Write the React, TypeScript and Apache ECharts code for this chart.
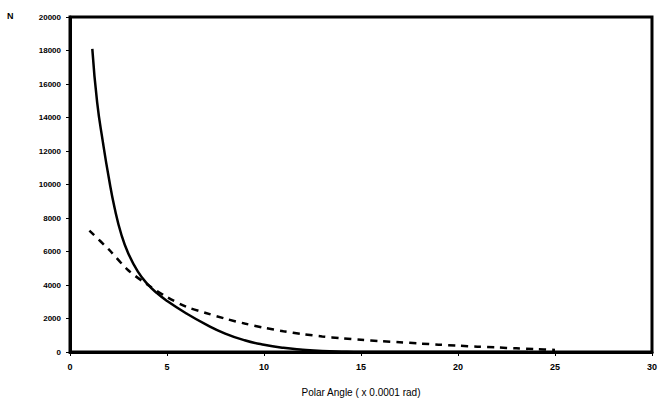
import React, { useEffect, useRef } from "react";
import * as echarts from "echarts";

const solidX = [1.15, 1.4, 1.7, 2.0, 2.3, 2.65, 3.0, 3.5, 4.0, 4.5, 5.0, 6.0, 7.0, 8.0, 9.0, 10.0, 11.0, 12.0, 13.0, 14.0, 15.0, 23.6];
const solidY = [18100, 14900, 12500, 10400, 8600, 7000, 5900, 4800, 4050, 3500, 3050, 2300, 1650, 1100, 700, 430, 250, 140, 60, 20, 0, 0];

const dashedX = [1, 2, 3, 4, 5, 6, 7, 8, 9, 10, 11, 12, 13, 14, 15, 16, 17, 18, 19, 20, 21, 22, 23, 24, 25];
const dashedY = [7250, 6120, 4880, 4020, 3280, 2700, 2330, 1990, 1700, 1450, 1240, 1070, 930, 820, 730, 650, 580, 510, 440, 380, 320, 270, 220, 170, 120];

const xTicks = [0, 5, 10, 15, 20, 25, 30];
const yTicks = [0, 2000, 4000, 6000, 8000, 10000, 12000, 14000, 16000, 18000, 20000];

const xTitle = "Polar Angle ( x 0.0001 rad)";
const yTitle = "N";

export default function App() {
  const ref = useRef<HTMLDivElement>(null);
  useEffect(() => {
    if (!ref.current) return;
    const chart = echarts.init(ref.current, null, { renderer: "svg" });
    const font = "'Liberation Sans', Arial, sans-serif";
    chart.setOption({
      animation: false,
      backgroundColor: "#fff",
      textStyle: { fontFamily: font },
      grid: {
        left: 70,
        right: 3,
        top: 17,
        bottom: 55,
        show: true,
        borderColor: "#000",
        borderWidth: 3,
        backgroundColor: "#fff",
      },
      graphic: [
        {
          type: "text",
          left: 7,
          top: 11,
          style: { text: yTitle, fontSize: 9, fontWeight: "bold", fill: "#000", fontFamily: font },
        },
      ],
      xAxis: {
        type: "value",
        min: xTicks[0],
        max: xTicks[xTicks.length - 1],
        interval: 5,
        name: xTitle,
        nameLocation: "middle",
        nameGap: 35,
        nameTextStyle: { fontSize: 10, color: "#000", fontFamily: font },
        axisLine: { show: true, lineStyle: { color: "#000", width: 3 } },
        axisTick: { show: true, length: 4, lineStyle: { color: "#000", width: 1 } },
        axisLabel: { fontSize: 9, color: "#000", margin: 10, fontWeight: "bold", formatter: (v: number) => String(v) },
        splitLine: { show: false },
      },
      yAxis: {
        type: "value",
        min: yTicks[0],
        max: yTicks[yTicks.length - 1],
        interval: 2000,
        axisLine: { show: true, lineStyle: { color: "#000", width: 3 } },
        axisTick: { show: true, length: 4, lineStyle: { color: "#000", width: 1 } },
        axisLabel: { fontSize: 8, color: "#000", margin: 9, fontWeight: "bold", formatter: (v: number) => String(v) },
        splitLine: { show: false },
      },
      series: [
        {
          type: "line",
          data: solidX.map((x, i) => [x, solidY[i]]),
          showSymbol: false,
          smooth: 0.5,
          lineStyle: { color: "#000", width: 2.5 },
        },
        {
          type: "line",
          data: dashedX.map((x, i) => [x, dashedY[i]]),
          showSymbol: false,
          smooth: 0.3,
          lineStyle: { color: "#000", width: 2.5, type: [7, 6] },
        },
      ],
    });
    return () => chart.dispose();
  }, []);
  return <div ref={ref} style={{ width: 660, height: 407, position: "absolute", left: 0, top: 0 }} />;
}
